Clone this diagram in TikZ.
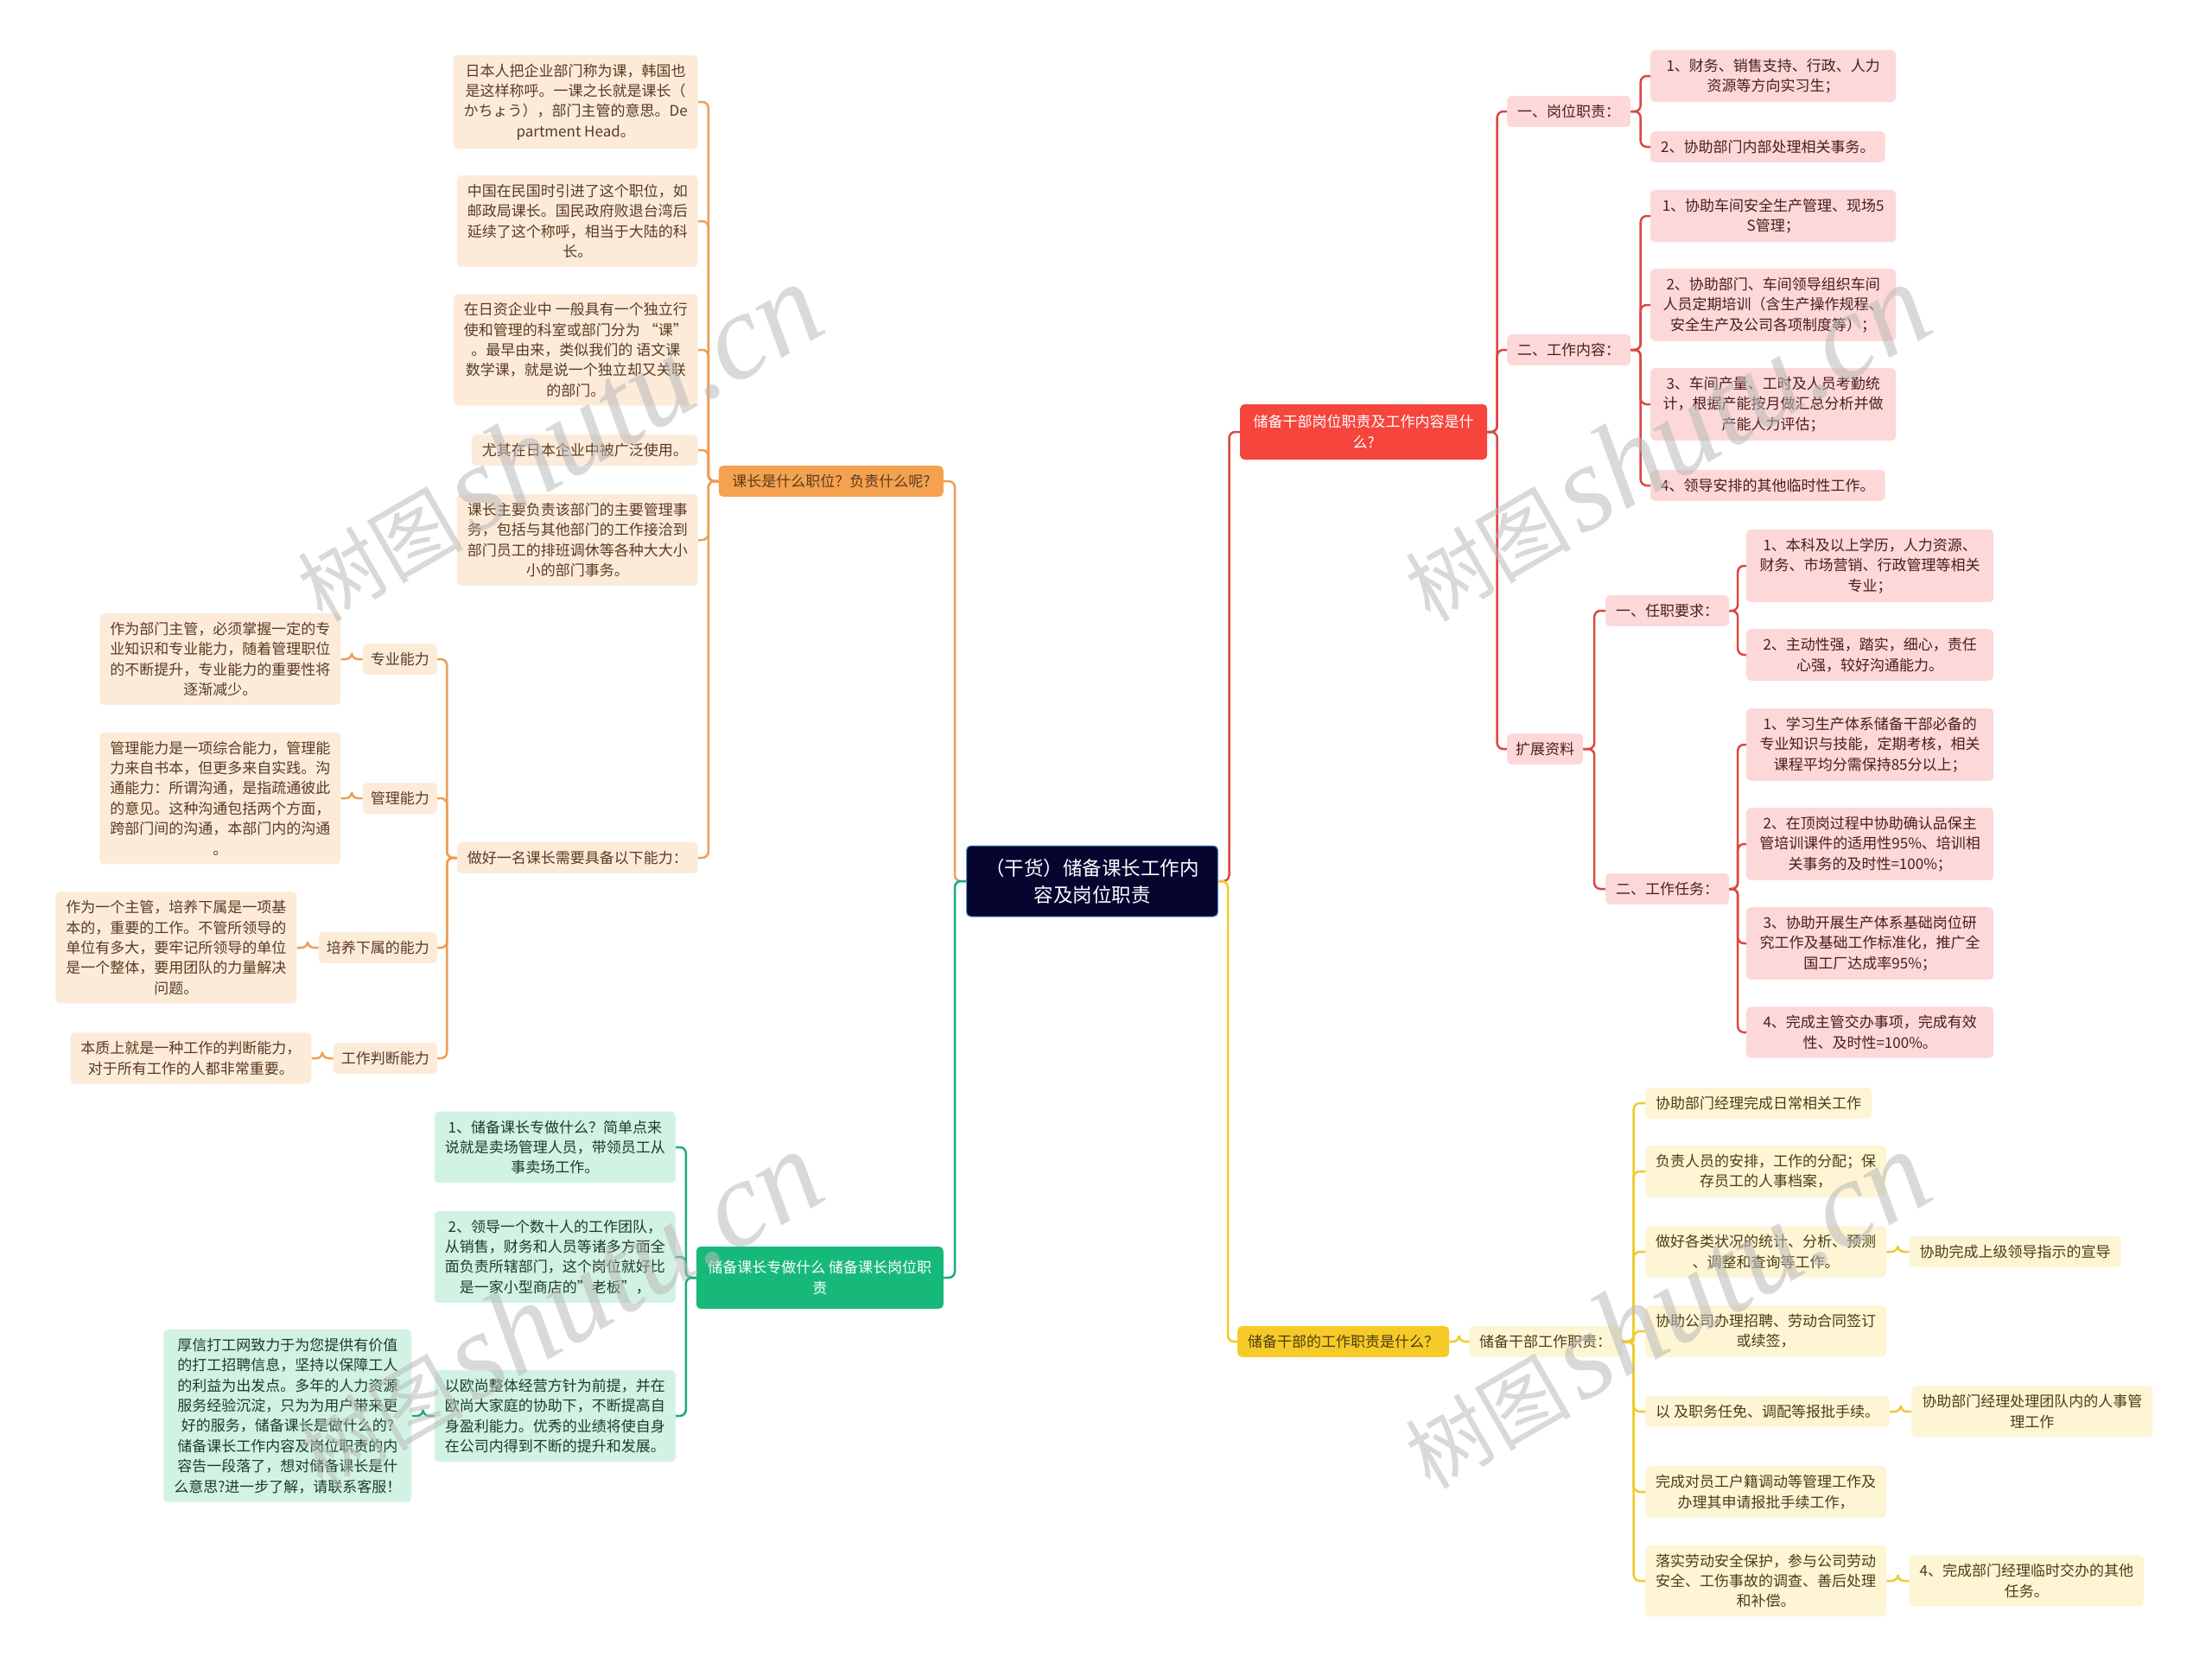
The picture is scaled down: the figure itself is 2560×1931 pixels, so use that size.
\documentclass[tikz,border=0pt]{standalone}
\usepackage{fontspec}
\setmainfont{Noto Sans CJK SC}
\newfontfamily\markfont{Liberation Serif}
\usetikzlibrary{positioning,calc}
\definecolor{coreblue}{HTML}{050530}
\definecolor{coreedge}{HTML}{5B8FD6}
\definecolor{orangeline}{HTML}{EE9D52}
\definecolor{orangemid}{HTML}{F4A24F}
\definecolor{orangelight}{HTML}{FDEBDA}
\definecolor{orangetext}{HTML}{5A3B1F}
\definecolor{greenline}{HTML}{1AAE74}
\definecolor{greenmid}{HTML}{17B97B}
\definecolor{greenlight}{HTML}{D2F3E4}
\definecolor{greentext}{HTML}{1E3A2D}
\definecolor{redline}{HTML}{DB4841}
\definecolor{redmid}{HTML}{F5453D}
\definecolor{redlight}{HTML}{FDD8D8}
\definecolor{redtext}{HTML}{4B1D1D}
\definecolor{yellowline}{HTML}{EFCB2C}
\definecolor{yellowmid}{HTML}{F6CB27}
\definecolor{yellowlight}{HTML}{FDF5D4}
\definecolor{yellowtext}{HTML}{4A3E14}
\newcommand{\linkL}[3]{\draw[link,#1] (#2.west) -| ($(#2.west)!.5!(#3.east)$) |- (#3.east);}
\newcommand{\linkR}[3]{\draw[link,#1] (#2.east) -| ($(#2.east)!.5!(#3.west)$) |- (#3.west);}

\begin{document}
\begin{tikzpicture}[x=1pt,y=-1pt,
  box/.style={rounded corners=5pt,align=center,inner xsep=12pt,inner ysep=10pt,font=\fontsize{17}{23.4}\selectfont},
  core/.style={box,fill=coreblue,draw=coreedge,line width=1pt,text=white,minimum width=291pt,minimum height=82pt,font=\fontsize{22.5}{31}\selectfont},
  orangemain/.style={box,fill=orangemid,text=orangetext},
  orangeleaf/.style={box,fill=orangelight,text=orangetext},
  greenmain/.style={box,fill=greenmid,text=white},
  greenleaf/.style={box,fill=greenlight,text=greentext},
  redmain/.style={box,fill=redmid,text=white},
  redleaf/.style={box,fill=redlight,text=redtext},
  yellowmain/.style={box,fill=yellowmid,text=yellowtext},
  yellowleaf/.style={box,fill=yellowlight,text=yellowtext},
  link/.style={line width=2.5pt,rounded corners=7pt},
  watermark/.style={rotate=30,text=gray!55,opacity=.55,inner sep=0pt}
]
\useasboundingbox (0,0) rectangle (2560,1931);
\node[core] (core) at (1264,1020) {（干货）储备课长工作内\\容及岗位职责};

% left: orange
\node[orangemain,anchor=east,minimum width=260pt] (role) at (1092,557) {课长是什么职位？负责什么呢?};
\node[orangeleaf,anchor=east] (rolejp) at (808,118) {日本人把企业部门称为课，韩国也\\是这样称呼。一课之长就是课长（\\かちょう），部门主管的意思。De\\partment Head。};
\node[orangeleaf,anchor=east] (rolecn) at (808,256) {中国在民国时引进了这个职位，如\\邮政局课长。国民政府败退台湾后\\延续了这个称呼，相当于大陆的科\\长。};
\node[orangeleaf,anchor=east] (rolesub) at (808,405) {在日资企业中 一般具有一个独立行\\使和管理的科室或部门分为 “课”\\。最早由来，类似我们的 语文课\\数学课，就是说一个独立却又关联\\的部门。};
\node[orangeleaf,anchor=east] (roleuse) at (808,521) {尤其在日本企业中被广泛使用。};
\node[orangeleaf,anchor=east] (roleduty) at (808,625) {课长主要负责该部门的主要管理事\\务，包括与其他部门的工作接洽到\\部门员工的排班调休等各种大大小\\小的部门事务。};
\node[orangeleaf,anchor=east] (roleskill) at (808,993) {做好一名课长需要具备以下能力：};
\node[orangeleaf,anchor=east,inner xsep=9pt] (skillpro) at (506,763) {专业能力};
\node[orangeleaf,anchor=east,inner xsep=9pt] (skillmgr) at (506,924) {管理能力};
\node[orangeleaf,anchor=east,inner xsep=9pt] (skillteam) at (506,1097) {培养下属的能力};
\node[orangeleaf,anchor=east,inner xsep=9pt] (skilljudge) at (506,1225) {工作判断能力};
\node[orangeleaf,left=25pt of skillpro] (textpro) {作为部门主管，必须掌握一定的专\\业知识和专业能力，随着管理职位\\的不断提升，专业能力的重要性将\\逐渐减少。};
\node[orangeleaf,left=25pt of skillmgr] (textmgr) {管理能力是一项综合能力，管理能\\力来自书本，但更多来自实践。沟\\通能力：所谓沟通，是指疏通彼此\\的意见。这种沟通包括两个方面，\\跨部门间的沟通，本部门内的沟通\\。};
\node[orangeleaf,left=25pt of skillteam] (textteam) {作为一个主管，培养下属是一项基\\本的，重要的工作。不管所领导的\\单位有多大，要牢记所领导的单位\\是一个整体，要用团队的力量解决\\问题。};
\node[orangeleaf,left=25pt of skilljudge] (textjudge) {本质上就是一种工作的判断能力，\\对于所有工作的人都非常重要。};

% left: green
\node[greenmain,anchor=east,minimum width=286pt,minimum height=72pt] (shop) at (1092,1479) {储备课长专做什么 储备课长岗位职\\责};
\node[greenleaf,anchor=east] (shopa) at (782,1328) {1、储备课长专做什么？简单点来\\说就是卖场管理人员，带领员工从\\事卖场工作。};
\node[greenleaf,anchor=east] (shopb) at (782,1455) {2、领导一个数十人的工作团队，\\从销售，财务和人员等诸多方面全\\面负责所辖部门，这个岗位就好比\\是一家小型商店的”老板”，};
\node[greenleaf,anchor=east] (shopc) at (782,1639) {以欧尚整体经营方针为前提，并在\\欧尚大家庭的协助下，不断提高自\\身盈利能力。优秀的业绩将使自身\\在公司内得到不断的提升和发展。};
\node[greenleaf,left=26pt of shopc] (shopnote) {厚信打工网致力于为您提供有价值\\的打工招聘信息，坚持以保障工人\\的利益为出发点。多年的人力资源\\服务经验沉淀，只为为用户带来更\\好的服务，储备课长是做什么的?\\储备课长工作内容及岗位职责的内\\容告一段落了，想对储备课长是什\\么意思?进一步了解，请联系客服！};

% right: red
\node[redmain,anchor=west,minimum width=286pt,minimum height=64pt] (cadre) at (1435,500) {储备干部岗位职责及工作内容是什\\么?};
\node[redleaf,anchor=west] (cadreduty) at (1744,129) {一、岗位职责：};
\node[redleaf,anchor=west] (cadrework) at (1744,405) {二、工作内容：};
\node[redleaf,anchor=west,inner xsep=10pt] (cadreext) at (1744,867) {扩展资料};
\node[redleaf,anchor=west,minimum width=284pt] (dutyone) at (1910,88) {1、财务、销售支持、行政、人力\\资源等方向实习生；};
\node[redleaf,anchor=west] (dutytwo) at (1910,170) {2、协助部门内部处理相关事务。};
\node[redleaf,anchor=west,minimum width=284pt] (workone) at (1910,250) {1、协助车间安全生产管理、现场5\\S管理；};
\node[redleaf,anchor=west,minimum width=284pt] (worktwo) at (1910,353) {2、协助部门、车间领导组织车间\\人员定期培训（含生产操作规程、\\安全生产及公司各项制度等）；};
\node[redleaf,anchor=west,minimum width=284pt] (workthree) at (1910,468) {3、车间产量、工时及人员考勤统\\计，根据产能按月做汇总分析并做\\产能人力评估；};
\node[redleaf,anchor=west] (workfour) at (1910,562) {4、领导安排的其他临时性工作。};
\node[redleaf,anchor=west] (extreq) at (1858,707) {一、任职要求：};
\node[redleaf,anchor=west] (exttask) at (1858,1029) {二、工作任务：};
\node[redleaf,anchor=west,minimum width=286pt] (reqone) at (2021,655) {1、本科及以上学历，人力资源、\\财务、市场营销、行政管理等相关\\专业；};
\node[redleaf,anchor=west,minimum width=286pt] (reqtwo) at (2021,758) {2、主动性强，踏实，细心，责任\\心强，较好沟通能力。};
\node[redleaf,anchor=west,minimum width=286pt] (taskone) at (2021,862) {1、学习生产体系储备干部必备的\\专业知识与技能，定期考核，相关\\课程平均分需保持85分以上；};
\node[redleaf,anchor=west,minimum width=286pt] (tasktwo) at (2021,977) {2、在顶岗过程中协助确认品保主\\管培训课件的适用性95\%、培训相\\关事务的及时性=100\%；};
\node[redleaf,anchor=west,minimum width=286pt] (taskthree) at (2021,1092) {3、协助开展生产体系基础岗位研\\究工作及基础工作标准化，推广全\\国工厂达成率95\%；};
\node[redleaf,anchor=west,minimum width=286pt] (taskfour) at (2021,1195) {4、完成主管交办事项，完成有效\\性、及时性=100\%。};

% right: yellow
\node[yellowmain,anchor=west] (cadrejob) at (1432,1553) {储备干部的工作职责是什么？};
\node[yellowleaf,anchor=west] (jobhead) at (1700,1553) {储备干部工作职责：};
\node[yellowleaf,anchor=west] (jobone) at (1904,1277) {协助部门经理完成日常相关工作};
\node[yellowleaf,anchor=west] (jobtwo) at (1904,1356) {负责人员的安排，工作的分配；保\\存员工的人事档案，};
\node[yellowleaf,anchor=west] (jobthree) at (1904,1449) {做好各类状况的统计、分析、预测\\、调整和查询等工作。};
\node[yellowleaf,anchor=west] (jobfour) at (1904,1541) {协助公司办理招聘、劳动合同签订\\或续签，};
\node[yellowleaf,anchor=west] (jobfive) at (1904,1634) {以 及职务任免、调配等报批手续。};
\node[yellowleaf,anchor=west] (jobsix) at (1904,1727) {完成对员工户籍调动等管理工作及\\办理其申请报批手续工作，};
\node[yellowleaf,anchor=west] (jobseven) at (1904,1830) {落实劳动安全保护，参与公司劳动\\安全、工伤事故的调查、善后处理\\和补偿。};
\node[yellowleaf,right=26pt of jobthree] (jobthreex) {协助完成上级领导指示的宣导};
\node[yellowleaf,right=25pt of jobfive] (jobfivex) {协助部门经理处理团队内的人事管\\理工作};
\node[yellowleaf,right=26pt of jobseven] (jobsevenx) {4、完成部门经理临时交办的其他\\任务。};

\linkL{orangeline}{core}{role}
\linkL{greenline}{core}{shop}
\linkR{redline}{core}{cadre}
\linkR{yellowline}{core}{cadrejob}
\foreach \n in {rolejp,rolecn,rolesub,roleuse,roleduty,roleskill}
  \linkL{orangeline}{role}{\n};
\foreach \n in {skillpro,skillmgr,skillteam,skilljudge}
  \linkL{orangeline}{roleskill}{\n};
\linkL{orangeline}{skillpro}{textpro}
\linkL{orangeline}{skillmgr}{textmgr}
\linkL{orangeline}{skillteam}{textteam}
\linkL{orangeline}{skilljudge}{textjudge}
\foreach \n in {shopa,shopb,shopc}
  \linkL{greenline}{shop}{\n};
\linkL{greenline}{shopc}{shopnote}
\foreach \n in {cadreduty,cadrework,cadreext}
  \linkR{redline}{cadre}{\n};
\foreach \n in {dutyone,dutytwo}
  \linkR{redline}{cadreduty}{\n};
\foreach \n in {workone,worktwo,workthree,workfour}
  \linkR{redline}{cadrework}{\n};
\foreach \n in {extreq,exttask}
  \linkR{redline}{cadreext}{\n};
\foreach \n in {reqone,reqtwo}
  \linkR{redline}{extreq}{\n};
\foreach \n in {taskone,tasktwo,taskthree,taskfour}
  \linkR{redline}{exttask}{\n};
\linkR{yellowline}{cadrejob}{jobhead}
\foreach \n in {jobone,jobtwo,jobthree,jobfour,jobfive,jobsix,jobseven}
  \linkR{yellowline}{jobhead}{\n};
\linkR{yellowline}{jobthree}{jobthreex}
\linkR{yellowline}{jobfive}{jobfivex}
\linkR{yellowline}{jobseven}{jobsevenx}

\foreach \wx/\wy/\wn in {645/512/1,1927/512/2,645/1516/3,1927/1516/4}
  \node[watermark] (mark\wn) at (\wx,\wy) {{\fontsize{96}{96}\selectfont 树图}\hspace{10pt}{\markfont\itshape\fontsize{142}{142}\selectfont shutu.cn}};
\end{tikzpicture}
\end{document}
